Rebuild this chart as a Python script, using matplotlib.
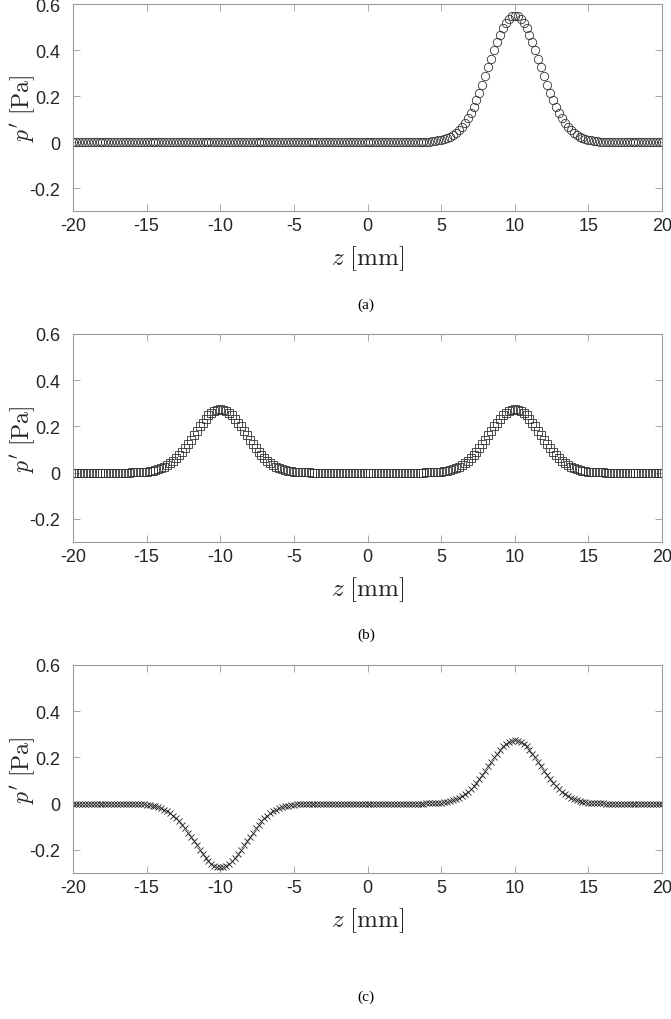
import numpy as np
import matplotlib
matplotlib.use("Agg")
import matplotlib.pyplot as plt

# ---------------- data ----------------
# sample grid: 0.2 mm spacing from -20 to 20 mm (201 samples)
z_mm = np.linspace(-20, 20, 201)

# full pulse (panel a), samples from z-10 = -6 ... +6 mm
pulse_full = [0.002, 0.002, 0.003, 0.005, 0.007, 0.009, 0.013, 0.017, 0.023, 0.031,
              0.040, 0.052, 0.066, 0.083, 0.103, 0.127, 0.153, 0.182, 0.215, 0.250,
              0.286, 0.324, 0.362, 0.399, 0.435, 0.467, 0.495, 0.519, 0.536, 0.546,
              0.550,
              0.546, 0.536, 0.519, 0.495, 0.467, 0.435, 0.399, 0.362, 0.324, 0.286,
              0.250, 0.215, 0.182, 0.153, 0.127, 0.103, 0.083, 0.066, 0.052, 0.040,
              0.031, 0.023, 0.017, 0.013, 0.009, 0.007, 0.005, 0.003, 0.002, 0.002]

# half pulse (panels b, c)
pulse_half = [0.001, 0.001, 0.002, 0.002, 0.003, 0.005, 0.006, 0.009, 0.012, 0.015,
              0.020, 0.026, 0.033, 0.042, 0.052, 0.063, 0.077, 0.091, 0.107, 0.125,
              0.143, 0.162, 0.181, 0.200, 0.217, 0.234, 0.248, 0.259, 0.268, 0.273,
              0.275,
              0.273, 0.268, 0.259, 0.248, 0.234, 0.217, 0.200, 0.181, 0.162, 0.143,
              0.125, 0.107, 0.091, 0.077, 0.063, 0.052, 0.042, 0.033, 0.026, 0.020,
              0.015, 0.012, 0.009, 0.006, 0.005, 0.003, 0.002, 0.002, 0.001, 0.001]

# negative half pulse (panel c, around z = -10)
pulse_half_neg = [-0.001, -0.001, -0.002, -0.002, -0.003, -0.005, -0.006, -0.009, -0.012, -0.015,
                  -0.020, -0.026, -0.033, -0.042, -0.052, -0.063, -0.077, -0.091, -0.107, -0.125,
                  -0.143, -0.162, -0.181, -0.200, -0.217, -0.234, -0.248, -0.259, -0.268, -0.273,
                  -0.275,
                  -0.273, -0.268, -0.259, -0.248, -0.234, -0.217, -0.200, -0.181, -0.162, -0.143,
                  -0.125, -0.107, -0.091, -0.077, -0.063, -0.052, -0.042, -0.033, -0.026, -0.020,
                  -0.015, -0.012, -0.009, -0.006, -0.005, -0.003, -0.002, -0.002, -0.001, -0.001]

p_a = [0.0] * 120 + pulse_full + [0.0] * 20
p_b = [0.0] * 20 + pulse_half + [0.0] * 39 + pulse_half + [0.0] * 20
p_c = [0.0] * 20 + pulse_half_neg + [0.0] * 39 + pulse_half + [0.0] * 20

series = [p_a, p_b, p_c]
markers = ["o", "s", "x"]
captions = ["(a)", "(b)", "(c)"]
xticks = [-20, -15, -10, -5, 0, 5, 10, 15, 20]
yticks = [-0.2, 0, 0.2, 0.4, 0.6]
xticklabels = ["-20", "-15", "-10", "-5", "0", "5", "10", "15", "20"]
yticklabels = ["-0.2", "0", "0.2", "0.4", "0.6"]

# ---------------- figure ----------------
plt.rcParams["mathtext.fontset"] = "cm"
W, H = 671, 1020
fig = plt.figure(figsize=(W / 100, H / 100), dpi=100)

ax_left, ax_right = 73, 662
ax_tops = [5, 335, 666]
ax_bottoms = [212, 543, 874]
caption_y = [305, 635, 997]
axis_gray = "#9a9a9a"

for i in range(3):
    top, bot = ax_tops[i], ax_bottoms[i]
    ax = fig.add_axes([ax_left / W, 1 - bot / H, (ax_right - ax_left) / W, (bot - top) / H])
    if markers[i] == "x":
        ax.plot(z_mm, series[i], linestyle="none", marker="x", markersize=4.6,
                markeredgewidth=0.6, color="#222222")
    elif markers[i] == "o":
        ax.plot(z_mm, series[i], linestyle="none", marker="o", markersize=6.0,
                markerfacecolor="none", markeredgewidth=0.6, markeredgecolor="#333333")
    else:
        ax.plot(z_mm, series[i], linestyle="none", marker="s", markersize=5.2,
                markerfacecolor="none", markeredgewidth=0.6, markeredgecolor="#333333")
    ax.set_xlim(-20, 20)
    ax.set_ylim(-0.3, 0.6)
    ax.set_xticks(xticks)
    ax.set_xticklabels(xticklabels, fontfamily="Liberation Sans", fontsize=13)
    ax.set_yticks(yticks)
    ax.set_yticklabels(yticklabels, fontfamily="Liberation Sans", fontsize=13)
    ax.tick_params(direction="in", top=True, right=True, length=5, width=0.6,
                   color=axis_gray, labelcolor="#262626")
    ax.tick_params(axis="x", pad=4)
    ax.tick_params(axis="y", pad=9)
    for s in ax.spines.values():
        s.set_color(axis_gray)
        s.set_linewidth(0.8)
    ax.set_xlabel(r"$z\ [\mathrm{mm}]$", fontsize=18, labelpad=7, color="#262626")
    ax.set_ylabel(r"$p'\ [\mathrm{Pa}]$", fontsize=17, labelpad=-5, color="#262626")
    fig.text(366 / W, 1 - caption_y[i] / H, captions[i], ha="center", va="center",
             fontfamily="Liberation Serif", fontsize=11)

fig.savefig("out.png", dpi=100)
